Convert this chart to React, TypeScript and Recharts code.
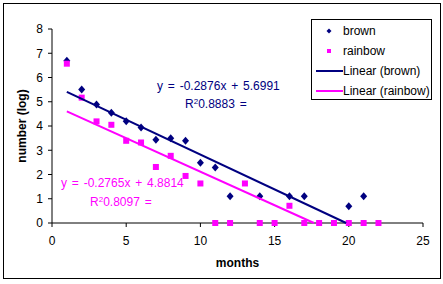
import { Legend, Scatter, ScatterChart, XAxis, YAxis } from "recharts";

const brownMonths = [1, 2, 3, 4, 5, 6, 7, 8, 9, 10, 11, 12, 14, 16, 17, 20, 21];
const brownValues = [6.69, 5.51, 4.89, 4.55, 4.2, 3.94, 3.43, 3.49, 3.39, 2.48, 2.29, 1.1, 1.1, 1.1, 1.1, 0.69, 1.1];

const rainbowMonths = [1, 2, 3, 4, 5, 6, 7, 8, 9, 10, 11, 12, 13, 14, 15, 16, 17, 18, 19, 20, 21, 22];
const rainbowValues = [6.57, 5.17, 4.19, 4.05, 3.39, 3.32, 2.31, 2.77, 1.94, 1.63, 0, 0, 1.63, 0, 0, 0.71, 0, 0, 0, 0, 0, 0];

// trendline end points (Excel linear fits, clipped at y = 0)
const brownTrendX = [1, 19.82];
const brownTrendY = [5.41, 0];
const rainbowTrendX = [1, 17.65];
const rainbowTrendY = [4.6, 0];

const xTicks = [0, 5, 10, 15, 20, 25];
const yTicks = [0, 1, 2, 3, 4, 5, 6, 7, 8];

const NAVY = "#000080";
const PINK = "#FF00FF";
const FONT = "Arial, 'Liberation Sans', sans-serif";

const zip = (xs: number[], ys: number[]) => xs.map((x, i) => ({ x, y: ys[i] }));

const brownData = zip(brownMonths, brownValues);
const rainbowData = zip(rainbowMonths, rainbowValues);
const brownTrend = zip(brownTrendX, brownTrendY);
const rainbowTrend = zip(rainbowTrendX, rainbowTrendY);

const Diamond = ({ cx, cy }: { cx?: number; cy?: number }) => {
  if (cx == null || cy == null) return <g />;
  return (
    <polygon
      points={`${cx},${cy - 4} ${cx + 3.5},${cy} ${cx},${cy + 4} ${cx - 3.5},${cy}`}
      fill={NAVY}
    />
  );
};

const Square = ({ cx, cy }: { cx?: number; cy?: number }) => {
  if (cx == null || cy == null) return <g />;
  return <rect x={cx - 3} y={cy - 3} width={6} height={6} fill={PINK} />;
};

const NoDot = () => <g />;

const legendRows = [
  { label: "brown", kind: "diamond", color: NAVY },
  { label: "rainbow", kind: "square", color: PINK },
  { label: "Linear (brown)", kind: "line", color: NAVY },
  { label: "Linear (rainbow)", kind: "line", color: PINK },
];

function LegendBox() {
  return (
    <div
      style={{
        width: 119,
        height: 78,
        border: "1px solid #000",
        background: "#fff",
        fontFamily: FONT,
        fontSize: 12,
        color: "#000",
        paddingTop: 1,
        boxSizing: "content-box",
      }}
    >
      {legendRows.map((row) => (
        <div key={row.label} style={{ display: "flex", alignItems: "center", height: 20 }}>
          <svg width={31} height={20} style={{ flex: "none" }}>
            {row.kind === "diamond" && (
              <polygon points="17,7.5 19.5,10 17,12.5 14.5,10" fill={row.color} />
            )}
            {row.kind === "square" && <rect x={15} y={8} width={4} height={4} fill={row.color} />}
            {row.kind === "line" && <line x1={4} y1={10} x2={31} y2={10} stroke={row.color} strokeWidth={2} />}
          </svg>
          <span>{row.label}</span>
        </div>
      ))}
    </div>
  );
}

const noteStyle = (color: string, left: number, top: number) => ({
  position: "absolute" as const,
  left,
  top,
  color,
  fontFamily: FONT,
  fontSize: 12,
  lineHeight: "14px",
  wordSpacing: 1.5,
  whiteSpace: "pre" as const,
});

export default function App() {
  return (
    <div style={{ position: "fixed", left: 0, top: 0, width: 443, height: 284, background: "#fff" }}>
      <div
        style={{
          position: "absolute",
          left: 3,
          top: 3,
          width: 436,
          height: 274,
          border: "1px solid #000",
        }}
      />
      <div style={{ position: "absolute", left: 0, top: 0 }}>
        <ScatterChart
          width={443}
          height={284}
          margin={{ top: 29, right: 20, bottom: 31, left: 0 }}
          style={{ fontFamily: FONT }}
        >
          <XAxis
            type="number"
            dataKey="x"
            domain={[0, 25]}
            ticks={xTicks}
            height={30}
            tickSize={4}
            tickMargin={9}
            stroke="#000"
            tick={{ fill: "#000", fontSize: 12, fontFamily: FONT }}
            label={{
              value: "months",
              position: "center",
              dy: 25,
              fill: "#000",
              fontSize: 12,
              fontWeight: "bold",
              fontFamily: FONT,
            }}
          />
          <YAxis
            type="number"
            dataKey="y"
            domain={[0, 8]}
            ticks={yTicks}
            width={52}
            tickSize={4}
            tickMargin={5}
            stroke="#000"
            tick={{ fill: "#000", fontSize: 12, fontFamily: FONT }}
            label={{
              value: "number (log)",
              position: "center",
              angle: -90,
              dx: -4,
              fill: "#000",
              fontSize: 12,
              fontWeight: "bold",
              fontFamily: FONT,
            }}
          />
          <Scatter name="brown" data={brownData} shape={Diamond} isAnimationActive={false} />
          <Scatter name="rainbow" data={rainbowData} shape={Square} isAnimationActive={false} />
          <Scatter
            name="Linear (brown)"
            data={brownTrend}
            line={{ stroke: NAVY, strokeWidth: 2 }}
            shape={NoDot}
            isAnimationActive={false}
          />
          <Scatter
            name="Linear (rainbow)"
            data={rainbowTrend}
            line={{ stroke: PINK, strokeWidth: 2 }}
            shape={NoDot}
            isAnimationActive={false}
          />
          <Legend
            layout="horizontal"
            verticalAlign="middle"
            align="center"
            wrapperStyle={{ left: 311, top: 19, width: 121, height: 80 }}
            content={() => <LegendBox />}
          />
        </ScatterChart>
      </div>
      <div style={noteStyle(NAVY, 157, 79)}>y = -0.2876x + 5.6991</div>
      <div style={noteStyle(NAVY, 185, 97)}>
        R<sup style={{ fontSize: 8, verticalAlign: "4px", lineHeight: 0 }}>2</sup>0.8883 =
      </div>
      <div style={noteStyle(PINK, 61, 176)}>y = -0.2765x + 4.8814</div>
      <div style={noteStyle(PINK, 90, 195)}>
        R<sup style={{ fontSize: 8, verticalAlign: "4px", lineHeight: 0 }}>2</sup>0.8097 =
      </div>
    </div>
  );
}
